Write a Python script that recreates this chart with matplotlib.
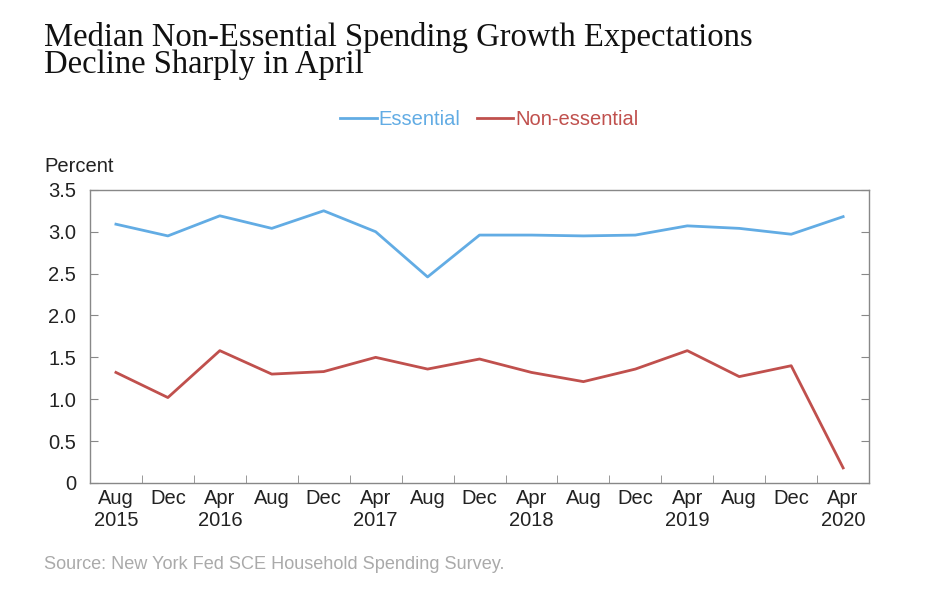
import matplotlib
matplotlib.use("Agg")
import matplotlib.pyplot as plt
import numpy as np

# survey waves, Aug 2015 .. Apr 2020
periods = ["Aug\n2015", "Dec", "Apr\n2016", "Aug", "Dec", "Apr\n2017", "Aug", "Dec",
           "Apr\n2018", "Aug", "Dec", "Apr\n2019", "Aug", "Dec", "Apr\n2020"]
essential = [3.09, 2.95, 3.19, 3.04, 3.25, 3.00, 2.46, 2.96, 2.96, 2.95, 2.96, 3.07, 3.04, 2.97, 3.18]
non_essential = [1.32, 1.02, 1.58, 1.30, 1.33, 1.50, 1.36, 1.48, 1.32, 1.21, 1.36, 1.58, 1.27, 1.40, 0.18]
y_ticks = [0, 0.5, 1.0, 1.5, 2.0, 2.5, 3.0, 3.5]
y_labels = ["0", "0.5", "1.0", "1.5", "2.0", "2.5", "3.0", "3.5"]

blue = "#62ACE4"
red = "#C0504D"
grey = "#888888"

plt.rcParams['font.family'] = ['Liberation Sans', 'DejaVu Sans']

fig = plt.figure(figsize=(9.41, 5.97), dpi=100)
ax = fig.add_axes([0.0956, 0.191, 0.828, 0.491])

x = np.arange(len(periods))
ax.plot(x, essential, color=blue, lw=2, label="Essential")
ax.plot(x, non_essential, color=red, lw=2, label="Non-essential")

ax.set_xlim(-0.5, len(periods) - 0.5)
ax.set_ylim(0, 3.5)
ax.set_yticks(y_ticks)
ax.set_yticklabels(y_labels, fontsize=14.5, color="#222222")
ax.set_xticks(x)
ax.set_xticklabels(periods, fontsize=14.5, color="#222222", linespacing=1.2)
ax.set_xticks(x[:-1] + 0.5, minor=True)
ax.tick_params(axis="x", which="major", length=0, pad=4)
ax.tick_params(axis="x", which="minor", direction="in", length=6, color=grey)
ax.tick_params(axis="y", direction="in", length=6, color=grey, left=True, right=True, pad=10)

for s in ax.spines.values():
    s.set_color(grey)
    s.set_linewidth(1)

fig.text(0.047, 0.712, "Percent", fontsize=14.5, color="#222222")

fig.text(0.047, 0.877, "Median Non-Essential Spending Growth Expectations\nDecline Sharply in April",
         fontsize=23.5, family="Liberation Serif", color="#111111", linespacing=0.88)

leg = fig.legend(loc="center", bbox_to_anchor=(0.52, 0.8), ncol=2, frameon=False,
                 fontsize=14.5, handlelength=1.8, handletextpad=0.1, columnspacing=0.8)
for txt, c in zip(leg.get_texts(), [blue, red]):
    txt.set_color(c)

fig.text(0.047, 0.047, "Source: New York Fed SCE Household Spending Survey.",
         fontsize=13.1, color="#AAAAAA")

fig.savefig("out.png", dpi=100)
